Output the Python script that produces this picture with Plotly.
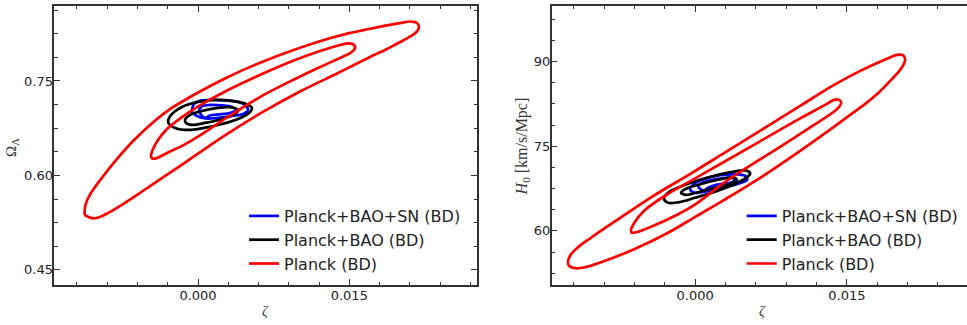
import plotly.graph_objects as go

# ---------------- left panel: zeta vs Omega_Lambda ----------------
# Planck (BD) contours
l_red_out_x = [-0.01125, -0.01110, -0.01061, -0.00962, -0.00803, -0.00634, -0.00436, -0.00268,
               0.00010, 0.00297, 0.00634, 0.00962, 0.01368, 0.01695, 0.01983, 0.02112, 0.02171,
               0.02191, 0.02171, 0.02122, 0.02042, 0.01963, 0.01864, 0.01695, 0.01537, 0.01368,
               0.01011, 0.00634, 0.00297, 0.00010, -0.00169, -0.00436, -0.00605, -0.00763,
               -0.00872, -0.00972, -0.01031, -0.01086, -0.01120]
l_red_out_y = [0.5421, 0.5563, 0.5722, 0.5944, 0.6262, 0.6563, 0.6857, 0.7063,
               0.7325, 0.7563, 0.7802, 0.8000, 0.8206, 0.8325, 0.8413, 0.8444, 0.8421,
               0.8357, 0.8286, 0.8222, 0.8151, 0.8083, 0.8000, 0.7873, 0.7746, 0.7611,
               0.7333, 0.7000, 0.6667, 0.6357, 0.6159, 0.5873, 0.5690, 0.5524,
               0.5421, 0.5341, 0.5317, 0.5341, 0.5373]
l_red_in_x = [-0.00466, -0.00446, -0.00397, -0.00317, -0.00169, 0.00010, 0.00297, 0.00634,
              0.00962, 0.01210, 0.01408, 0.01497, 0.01547, 0.01557, 0.01517, 0.01408, 0.01210,
              0.00962, 0.00634, 0.00297, 0.00010, -0.00139, -0.00307, -0.00416, -0.00456]
l_red_in_y = [0.6310, 0.6421, 0.6563, 0.6722, 0.6913, 0.7103, 0.7357, 0.7611,
              0.7833, 0.7976, 0.8071, 0.8095, 0.8071, 0.8024, 0.7952, 0.7865, 0.7722,
              0.7532, 0.7262, 0.6929, 0.6627, 0.6484, 0.6357, 0.6270, 0.6270]
# Planck+BAO (BD) contours
l_blk_out_x = [-0.00297, -0.00258, -0.00159, 0.00000, 0.00169, 0.00337, 0.00476, 0.00535,
               0.00506, 0.00397, 0.00238, 0.00059, -0.00099, -0.00228, -0.00288]
l_blk_out_y = [0.6865, 0.6976, 0.7087, 0.7167, 0.7198, 0.7183, 0.7135, 0.7071,
               0.6992, 0.6897, 0.6817, 0.6754, 0.6722, 0.6754, 0.6817]
l_blk_in_x = [-0.00129, -0.00079, 0.00040, 0.00198, 0.00337, 0.00397, 0.00367, 0.00238,
              0.00069, -0.00059, -0.00119]
l_blk_in_y = [0.6881, 0.6960, 0.7024, 0.7071, 0.7079, 0.7040, 0.6976, 0.6897,
              0.6833, 0.6802, 0.6833]
# Planck+BAO+SN (BD) contours
l_blu_out_x = [-0.00059, -0.00040, 0.00010, 0.00119, 0.00268, 0.00397, 0.00466, 0.00496,
               0.00446, 0.00337, 0.00198, 0.00079, -0.00010, -0.00059]
l_blu_out_y = [0.7040, 0.7135, 0.7183, 0.7198, 0.7190, 0.7167, 0.7119, 0.7040,
               0.6976, 0.6944, 0.6913, 0.6905, 0.6944, 0.7008]
l_blu_in_x = [0.00010, 0.00040, 0.00119, 0.00238, 0.00337, 0.00377, 0.00317, 0.00198,
              0.00119, 0.00069, 0.00040, 0.00020]
l_blu_in_y = [0.7024, 0.7095, 0.7119, 0.7111, 0.7087, 0.7040, 0.6992, 0.6968,
              0.6952, 0.6913, 0.6944, 0.6992]

# ---------------- right panel: zeta vs H0 ----------------
r_red_out_x = [-0.01256, -0.01236, -0.01157, -0.01028, -0.00761, -0.00435, -0.00030, 0.00297,
               0.00633, 0.01038, 0.01365, 0.01632, 0.01879, 0.01997, 0.02057, 0.02076, 0.02047,
               0.01997, 0.01918, 0.01810, 0.01681, 0.01533, 0.01365, 0.01038, 0.00643, 0.00297,
               0.00010, -0.00267, -0.00603, -0.00929, -0.01088, -0.01187, -0.01246]
r_red_out_y = [54.35, 55.59, 57.09, 58.78, 62.05, 65.95, 70.29, 73.92,
               77.64, 82.15, 85.78, 88.36, 90.39, 91.19, 91.10, 90.39, 89.06,
               87.91, 86.40, 84.45, 82.51, 80.56, 78.35, 74.19, 69.40, 65.59,
               62.58, 59.66, 56.74, 54.44, 53.55, 53.38, 53.82]
r_red_in_x = [-0.00633, -0.00603, -0.00504, -0.00267, 0.00010, 0.00297, 0.00633, 0.01038,
              0.01285, 0.01375, 0.01424, 0.01444, 0.01414, 0.01365, 0.01137, 0.00840, 0.00633,
              0.00297, 0.00010, -0.00168, -0.00435, -0.00583, -0.00623]
r_red_in_y = [60.19, 61.35, 63.56, 66.57, 69.40, 72.33, 75.78, 79.94,
              82.33, 83.22, 83.22, 82.69, 81.80, 81.03, 78.35, 74.89, 72.59,
              68.69, 64.80, 62.94, 60.73, 59.75, 59.66]
r_blk_out_x = [-0.00307, -0.00267, -0.00148, 0.00049, 0.00247, 0.00425, 0.00514, 0.00544,
               0.00504, 0.00396, 0.00198, 0.00000, -0.00168, -0.00267]
r_blk_out_y = [65.68, 66.75, 67.81, 69.05, 70.02, 70.64, 70.64, 70.11,
               69.40, 68.34, 66.92, 65.86, 65.06, 64.98]
r_blk_in_x = [-0.00138, -0.00089, 0.00049, 0.00227, 0.00356, 0.00405, 0.00366, 0.00198,
              0.00030, -0.00089]
r_blk_in_y = [66.75, 67.46, 68.25, 69.05, 69.49, 69.23, 68.52, 67.63,
              66.84, 66.39]
r_blu_out_x = [-0.00049, -0.00010, 0.00099, 0.00247, 0.00396, 0.00494, 0.00514, 0.00425,
               0.00267, 0.00109, 0.00000]
r_blu_out_y = [67.28, 68.34, 69.23, 69.85, 70.02, 69.76, 69.05, 68.34,
               67.63, 67.01, 66.75]
r_blu_in_x = [0.00030, 0.00099, 0.00227, 0.00346, 0.00415, 0.00346, 0.00208, 0.00129,
              0.00089, 0.00049]
r_blu_in_y = [67.99, 68.70, 69.23, 69.40, 69.05, 68.52, 68.17, 67.63,
              67.19, 67.46]

labels = ["Planck+BAO+SN (BD)", "Planck+BAO (BD)", "Planck (BD)"]
colors = ["#0000ff", "#000000", "#ff0000"]


def closed(xs, ys):
    """Start the loop part-way along its edge and close it."""
    k = len(xs) // 4
    xs = list(xs[k:]) + list(xs[:k])
    ys = list(ys[k:]) + list(ys[:k])
    return xs + [xs[0]], ys + [ys[0]]


fig = go.Figure()

panels = [
    ("x", "y", "legend", [(l_blu_out_x, l_blu_out_y, l_blu_in_x, l_blu_in_y),
                          (l_blk_out_x, l_blk_out_y, l_blk_in_x, l_blk_in_y),
                          (l_red_out_x, l_red_out_y, l_red_in_x, l_red_in_y)]),
    ("x2", "y2", "legend2", [(r_blu_out_x, r_blu_out_y, r_blu_in_x, r_blu_in_y),
                             (r_blk_out_x, r_blk_out_y, r_blk_in_x, r_blk_in_y),
                             (r_red_out_x, r_red_out_y, r_red_in_x, r_red_in_y)]),
]

for xa, ya, leg, groups in panels:
    for (ox, oy, ix, iy), name, col in zip(groups, labels, colors):
        for j, (cx, cy) in enumerate([(ox, oy), (ix, iy)]):
            px, py = closed(cx, cy)
            fig.add_trace(go.Scatter(
                x=px, y=py, mode="lines", xaxis=xa, yaxis=ya,
                line=dict(color=col, width=2.7, shape="spline", smoothing=1.0),
                name=name, showlegend=(j == 0), legend=leg, hoverinfo="skip"))

spine = "#333333"
tickfont = dict(family="DejaVu Sans", size=13, color="#222222")


def axis_style(dtick, minor_dtick, fmt, rng, domain, mirror, standoff):
    return dict(
        range=rng, domain=domain, tick0=0, dtick=dtick, tickformat=fmt,
        ticks="inside", ticklen=6, tickwidth=1.2, tickcolor=spine,
        showline=True, linecolor=spine, linewidth=1.5, mirror=mirror,
        showgrid=False, zeroline=False, tickfont=tickfont, ticklabelstandoff=standoff,
        minor=dict(tick0=0, dtick=minor_dtick, ticks="inside", ticklen=3.5,
                   tickwidth=1.0, tickcolor=spine, showgrid=False),
    )


W, H = 967, 325
ydom = [(H - 285) / H, (H - 6) / H]
legend_font = dict(family="DejaVu Sans", size=16, color="#222222")

fig.update_layout(
    width=W, height=H, margin=dict(l=0, r=0, t=0, b=0),
    paper_bgcolor="white", plot_bgcolor="white",
    xaxis=axis_style(0.015, 0.003, ".3f", [-0.01425, 0.02766], [54.3 / W, 477 / W],
                     "allticks", -2),
    yaxis=axis_style(0.15, 0.0375, ".2f", [0.426, 0.869], ydom, "allticks", -3),
    xaxis2=axis_style(0.015, 0.003, ".3f", [-0.01417, 0.02687], [551.7 / W, 1.0],
                      "allticks", -2),
    yaxis2=axis_style(15, 3.75, "d", [50.4, 99.86], ydom, False, -3),
    legend=dict(x=(284 - 40) / W, y=(H - 199) / H, xanchor="left", yanchor="top",
                bgcolor="rgba(0,0,0,0)", borderwidth=0, tracegroupgap=0, font=legend_font),
    legend2=dict(x=(781.7 - 40) / W, y=(H - 199) / H, xanchor="left", yanchor="top",
                 bgcolor="rgba(0,0,0,0)", borderwidth=0, tracegroupgap=0, font=legend_font),
    showlegend=True,
)
fig.layout.xaxis2.anchor = "y2"
fig.layout.yaxis2.anchor = "x2"

title_font = dict(family="Liberation Serif", size=14, color="#333333")
fig.add_annotation(text="<i>ζ</i>", x=265.7 / W, y=(H - 311.7) / H, xref="paper", yref="paper",
                   showarrow=False, font=title_font, xanchor="center", yanchor="middle")
fig.add_annotation(text="<i>ζ</i>", x=762.7 / W, y=(H - 311.7) / H, xref="paper", yref="paper",
                   showarrow=False, font=title_font, xanchor="center", yanchor="middle")
fig.add_annotation(text="Ω<sub>Λ</sub>", x=12 / W, y=(H - 148) / H, xref="paper", yref="paper",
                   showarrow=False, font=dict(title_font, size=15), textangle=-90,
                   xanchor="center", yanchor="middle")
fig.add_annotation(text="<i>H</i><sub>0</sub> [km/s/Mpc]", x=522.7 / W, y=(H - 146.7) / H,
                   xref="paper", yref="paper", showarrow=False, font=dict(title_font, size=16),
                   textangle=-90, xanchor="center", yanchor="middle")

fig.write_html("out.html")
